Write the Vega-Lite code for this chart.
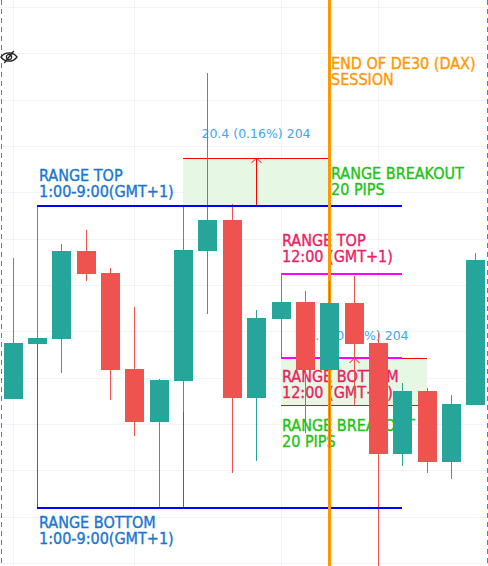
{
"$schema":"https://vega.github.io/schema/vega-lite/v6.json",
"width":488,"height":566,"padding":0,"autosize":{"type":"none"},
"background":"#ffffff",
"config":{"view":{"stroke":null}},
"resolve":{"scale":{"color":"independent"}},
"datasets":{
"candles":[
{"bar":0,"open":12650.8,"close":12674.9,"high":12711.6,"low":12650.8,"dir":"up"},
{"bar":1,"open":12674.5,"close":12677.1,"high":12734.1,"low":12674.5,"dir":"up"},
{"bar":2,"open":12676.7,"close":12714.6,"high":12717.7,"low":12662.0,"dir":"up"},
{"bar":3,"open":12714.6,"close":12704.7,"high":12723.7,"low":12701.7,"dir":"down"},
{"bar":4,"open":12705.1,"close":12663.3,"high":12707.3,"low":12650.3,"dir":"down"},
{"bar":5,"open":12663.7,"close":12640.8,"high":12690.5,"low":12634.8,"dir":"down"},
{"bar":6,"open":12640.8,"close":12659.0,"high":12659.4,"low":12603.3,"dir":"up"},
{"bar":7,"open":12658.5,"close":12715.1,"high":12734.1,"low":12645.1,"dir":"up"},
{"bar":8,"open":12714.6,"close":12728.0,"high":12791.5,"low":12687.4,"dir":"up"},
{"bar":9,"open":12728.0,"close":12651.2,"high":12734.9,"low":12618.8,"dir":"down"},
{"bar":10,"open":12651.2,"close":12685.7,"high":12689.2,"low":12624.0,"dir":"up"},
{"bar":11,"open":12685.3,"close":12692.6,"high":12704.7,"low":12668.9,"dir":"up"},
{"bar":12,"open":12692.6,"close":12663.3,"high":12697.4,"low":12636.1,"dir":"down"},
{"bar":13,"open":12663.3,"close":12692.2,"high":12701.7,"low":12629.6,"dir":"up"},
{"bar":14,"open":12692.2,"close":12674.5,"high":12703.9,"low":12648.2,"dir":"down"},
{"bar":15,"open":12674.9,"close":12627.0,"high":12679.2,"low":12578.7,"dir":"down"},
{"bar":16,"open":12627.0,"close":12654.2,"high":12657.7,"low":12621.8,"dir":"up"},
{"bar":17,"open":12654.2,"close":12623.6,"high":12655.5,"low":12618.8,"dir":"down"},
{"bar":18,"open":12623.6,"close":12648.6,"high":12652.5,"low":12616.2,"dir":"up"},
{"bar":19,"open":12648.2,"close":12710.8,"high":12713.8,"low":12648.2,"dir":"up"}
],
"zones":[
{"from":7,"to":13,"low":12734.1,"high":12754.8},
{"from":11,"to":17,"low":12648.2,"high":12668.5}
],
"labels":[
{"bar":1.1,"price":12744.9,"label":"RANGE TOP\n1:00-9:00(GMT+1)","kind":"blue"},
{"bar":1.1,"price":12595.1,"label":"RANGE BOTTOM\n1:00-9:00(GMT+1)","kind":"blue"},
{"bar":13.09,"price":12793.2,"label":"END OF DE30 (DAX)\nSESSION","kind":"orange"},
{"bar":13.09,"price":12745.7,"label":"RANGE BREAKOUT\n20 PIPS","kind":"green"},
{"bar":11.07,"price":12716.8,"label":"RANGE TOP\n12:00 (GMT+1)","kind":"pink"},
{"bar":11.07,"price":12658.1,"label":"RANGE BOTTOM\n12:00 (GMT+1)","kind":"pink"},
{"bar":11.07,"price":12636.9,"label":"RANGE BREAKOUT\n20 PIPS","kind":"green"}
]
},
"layer":[
{"data":{"values":[{"price":12820},{"price":12800},{"price":12780},{"price":12760},{"price":12740},{"price":12720},{"price":12700},{"price":12680},{"price":12660},{"price":12640},{"price":12620},{"price":12600},{"price":12580}]},
 "mark":{"type":"rule","stroke":"#f0f3fa","strokeWidth":1,"yOffset":0.5},
 "encoding":{"y":{"field":"price","type":"quantitative","scale":{"domain":[12578.7,12823],"nice":false,"zero":false,"round":true},"axis":null}}},
{"data":{"values":[{"bar":0},{"bar":5},{"bar":11},{"bar":15}]},
 "mark":{"type":"rule","stroke":"#f0f3fa","strokeWidth":1,"xOffset":0.5},
 "encoding":{"x":{"field":"bar","type":"quantitative","scale":{"domain":[-0.52,19.52],"nice":false,"zero":false,"padding":0,"round":true},"axis":null}}},
{"data":{"values":[{"bar":-0.49},{"bar":19.46}]},
 "mark":{"type":"rule","stroke":"#4a80dc","strokeWidth":1,"strokeDash":[5,4],"xOffset":0.5},
 "encoding":{"x":{"field":"bar","type":"quantitative"}}},
{"data":{"name":"zones"},
 "mark":{"type":"rect","fill":"#e6f7e3"},
 "encoding":{"x":{"field":"from","type":"quantitative"},"x2":{"field":"to"},"y":{"field":"low","type":"quantitative"},"y2":{"field":"high"}}},
{"data":{"values":[{"from":11,"to":16,"price":12704.7},{"from":11,"to":16,"price":12668.5}]},
 "mark":{"type":"rule","stroke":"#ff00ff","strokeWidth":2},
 "encoding":{"x":{"field":"from","type":"quantitative"},"x2":{"field":"to"},"y":{"field":"price","type":"quantitative"}}},
{"data":{"values":[{"from":7,"to":13,"price":12754.8},{"from":16,"to":17,"price":12668.5},{"from":11,"to":17,"price":12648.2}]},
 "mark":{"type":"rule","stroke":"#ff0000","strokeWidth":1,"yOffset":0.5,"y2Offset":0.5},
 "encoding":{"x":{"field":"from","type":"quantitative"},"x2":{"field":"to"},"y":{"field":"price","type":"quantitative"}}},
{"data":{"values":[{"bar":10,"low":12734.1,"high":12754.8},{"bar":14,"low":12648.2,"high":12668.5}]},
 "mark":{"type":"rule","stroke":"#ff0000","strokeWidth":1,"xOffset":0.5,"x2Offset":0.5},
 "encoding":{"x":{"field":"bar","type":"quantitative"},"y":{"field":"low","type":"quantitative"},"y2":{"field":"high"}}},
{"data":{"values":[{"bar":10,"price":12754.8},{"bar":14,"price":12668.5}]},
 "mark":{"type":"point","shape":"M-1,1 L0,0 L1,1","size":100,"filled":false,"stroke":"#ff0000","strokeWidth":1,"opacity":1,"xOffset":0.5},
 "encoding":{"x":{"field":"bar","type":"quantitative"},"y":{"field":"price","type":"quantitative"}}},
{"data":{"values":[{"bar":10,"price":12763.4,"label":"20.4 (0.16%) 204"},{"bar":14,"price":12676.2,"label":"20.4 (0.16%) 204"}]},
 "mark":{"type":"text","font":"DejaVu Sans","fontSize":12.5,"fill":"#42a5f5","align":"center","baseline":"alphabetic"},
 "encoding":{"x":{"field":"bar","type":"quantitative"},"y":{"field":"price","type":"quantitative"},"text":{"field":"label"}}},
{"data":{"name":"labels"},
 "mark":{"type":"text","font":"DejaVu Sans Condensed","fontSize":16,"align":"left","baseline":"alphabetic","lineBreak":"\n","lineHeight":16,"strokeWidth":0.35},
 "encoding":{"x":{"field":"bar","type":"quantitative"},"y":{"field":"price","type":"quantitative"},"text":{"field":"label"},
 "color":{"field":"kind","type":"nominal","legend":null,"scale":{"domain":["blue","orange","green","pink"],"range":["#1976d2","#ff9800","#22c314","#e91e63"]}},
 "stroke":{"field":"kind","type":"nominal","legend":null,"scale":{"domain":["blue","orange","green","pink"],"range":["#1976d2","#ff9800","#22c314","#e91e63"]}}}},
{"data":{"values":[{"bar":13}]},
 "mark":{"type":"rule","stroke":"#ff9800","strokeWidth":3,"xOffset":0.5},
 "encoding":{"x":{"field":"bar","type":"quantitative"}}},
{"data":{"name":"candles"},
 "mark":{"type":"rule","strokeWidth":1,"xOffset":0.5,"x2Offset":0.5},
 "encoding":{"x":{"field":"bar","type":"quantitative"},"y":{"field":"low","type":"quantitative"},"y2":{"field":"high"},
 "color":{"field":"dir","type":"nominal","legend":null,"scale":{"domain":["up","down"],"range":["#26a69a","#ef5350"]}}}},
{"data":{"name":"candles"},
 "mark":{"type":"bar","size":19,"xOffset":0.5},
 "encoding":{"x":{"field":"bar","type":"quantitative"},"y":{"field":"open","type":"quantitative"},"y2":{"field":"close"},
 "color":{"field":"dir","type":"nominal","legend":null,"scale":{"domain":["up","down"],"range":["#26a69a","#ef5350"]}}}},
{"data":{"values":[{"bar":1,"low":12603.7,"high":12674.5},{"bar":7,"low":12603.7,"high":12645.1}]},
 "mark":{"type":"rule","stroke":"#5050e6","strokeWidth":1,"xOffset":0.5,"x2Offset":0.5},
 "encoding":{"x":{"field":"bar","type":"quantitative"},"y":{"field":"low","type":"quantitative"},"y2":{"field":"high"}}},
{"data":{"values":[{"from":1,"to":12.94,"price":12734.1},{"from":13.06,"to":16,"price":12734.1},{"from":1,"to":12.94,"price":12603.7},{"from":13.06,"to":16,"price":12603.7}]},
 "mark":{"type":"rule","stroke":"#0000ff","strokeWidth":2},
 "encoding":{"x":{"field":"from","type":"quantitative"},"x2":{"field":"to"},"y":{"field":"price","type":"quantitative"}}},
{"data":{"values":[{"bar":-0.136,"price":12798.4}]},
 "mark":{"type":"point","shape":"M-1,0 C-0.5,-0.7 0.5,-0.7 1,0 C0.5,0.7 -0.5,0.7 -1,0 Z M-0.33,0 a0.33,0.33 0 1,0 0.66,0 a0.33,0.33 0 1,0 -0.66,0 M-0.6,0.75 L0.6,-0.75","size":256,"filled":false,"stroke":"#222222","strokeWidth":1.3,"opacity":1},
 "encoding":{"x":{"field":"bar","type":"quantitative"},"y":{"field":"price","type":"quantitative"}}}
]
}
